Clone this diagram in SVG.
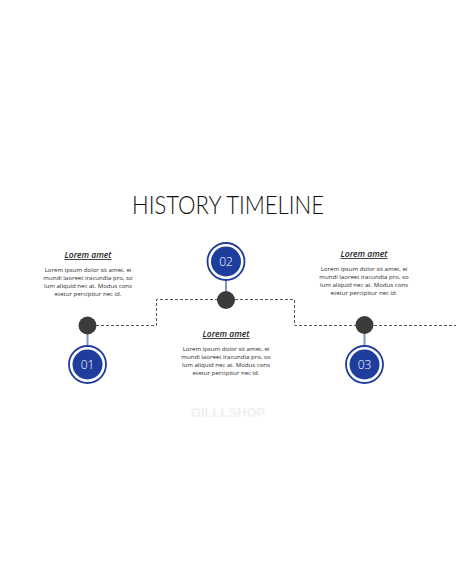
<svg xmlns="http://www.w3.org/2000/svg" width="456" height="586" viewBox="0 0 456 586">
<style>
.title{font-family:Lato,"Liberation Sans",sans-serif;font-weight:300;font-size:26px;fill:#111;}
.h{font-family:"Open Sans","Liberation Sans",sans-serif;font-style:italic;font-weight:600;font-size:8.5px;fill:#222;text-decoration:underline;}
.b{font-family:"Open Sans","Liberation Sans",sans-serif;font-size:6.1px;fill:#2a2a2a;}
.ring{fill:#fff;stroke:#1f3d9c;stroke-width:1.8;}
.core{fill:#1f3d9c;}
.num{font-family:"Open Sans","Liberation Sans",sans-serif;font-weight:300;font-size:12px;fill:#fff;}
.dot{fill:#3b3b3b;}
.stem{stroke:#8294c4;stroke-width:2;}
.dash{fill:none;stroke:#555;stroke-width:1;stroke-dasharray:3 2;}
.wm{font-family:"Liberation Sans",sans-serif;font-weight:bold;font-size:13px;fill:#f1f1f1;}
</style>
<rect width="456" height="586" fill="#fff"/>
<text class="title" x="228" y="214" text-anchor="middle" textLength="192" lengthAdjust="spacingAndGlyphs">HISTORY TIMELINE</text>
<g id="connectors">
<path class="dash" d="M96 325.5 H156.5 V299.5 H294.5 V325.5 H456"/>
<line class="stem" x1="87.5" y1="334" x2="87.5" y2="346"/>
<line class="stem" x1="226" y1="280" x2="226" y2="292"/>
<line class="stem" x1="364.5" y1="333" x2="364.5" y2="346"/>
</g>
<g id="node1">
<circle class="dot" cx="87.5" cy="325.5" r="9"/>
<circle class="ring" cx="87.5" cy="364.5" r="18.5"/>
<circle class="core" cx="87.5" cy="364.5" r="15"/>
<text class="num" x="87.5" y="369" text-anchor="middle">01</text>
</g>
<g id="node2">
<circle class="dot" cx="226" cy="300" r="9"/>
<circle class="ring" cx="226" cy="261.5" r="18.5"/>
<circle class="core" cx="226" cy="261.5" r="15"/>
<text class="num" x="226" y="266" text-anchor="middle">02</text>
</g>
<g id="node3">
<circle class="dot" cx="364.5" cy="325" r="9"/>
<circle class="ring" cx="364.5" cy="364.5" r="18.5"/>
<circle class="core" cx="364.5" cy="364.5" r="15"/>
<text class="num" x="364.5" y="369" text-anchor="middle">03</text>
</g>
<g id="text1" text-anchor="middle">
<text class="h" x="88" y="258">Lorem amet</text>
<text class="b" x="88" y="271.5">Lorem ipsum dolor sit amet, ei</text>
<text class="b" x="88" y="279.5">mundi laoreet iracundia pro, so</text>
<text class="b" x="88" y="287.5">lum aliquid nec at. Modus cons</text>
<text class="b" x="88" y="295.5">etetur percipitur nec id.</text>
</g>
<g id="text2" text-anchor="middle">
<text class="h" x="226" y="337">Lorem amet</text>
<text class="b" x="226" y="350.5">Lorem ipsum dolor sit amet, ei</text>
<text class="b" x="226" y="358.5">mundi laoreet iracundia pro, so</text>
<text class="b" x="226" y="366.5">lum aliquid nec at. Modus cons</text>
<text class="b" x="226" y="374.5">etetur percipitur nec id.</text>
</g>
<g id="text3" text-anchor="middle">
<text class="h" x="364" y="257">Lorem amet</text>
<text class="b" x="364" y="270.5">Lorem ipsum dolor sit amet, ei</text>
<text class="b" x="364" y="278.5">mundi laoreet iracundia pro, so</text>
<text class="b" x="364" y="286.5">lum aliquid nec at. Modus cons</text>
<text class="b" x="364" y="294.5">etetur percipitur nec id.</text>
</g>
<text class="wm" x="228" y="417" text-anchor="middle">GILLLSHOP</text>
</svg>
